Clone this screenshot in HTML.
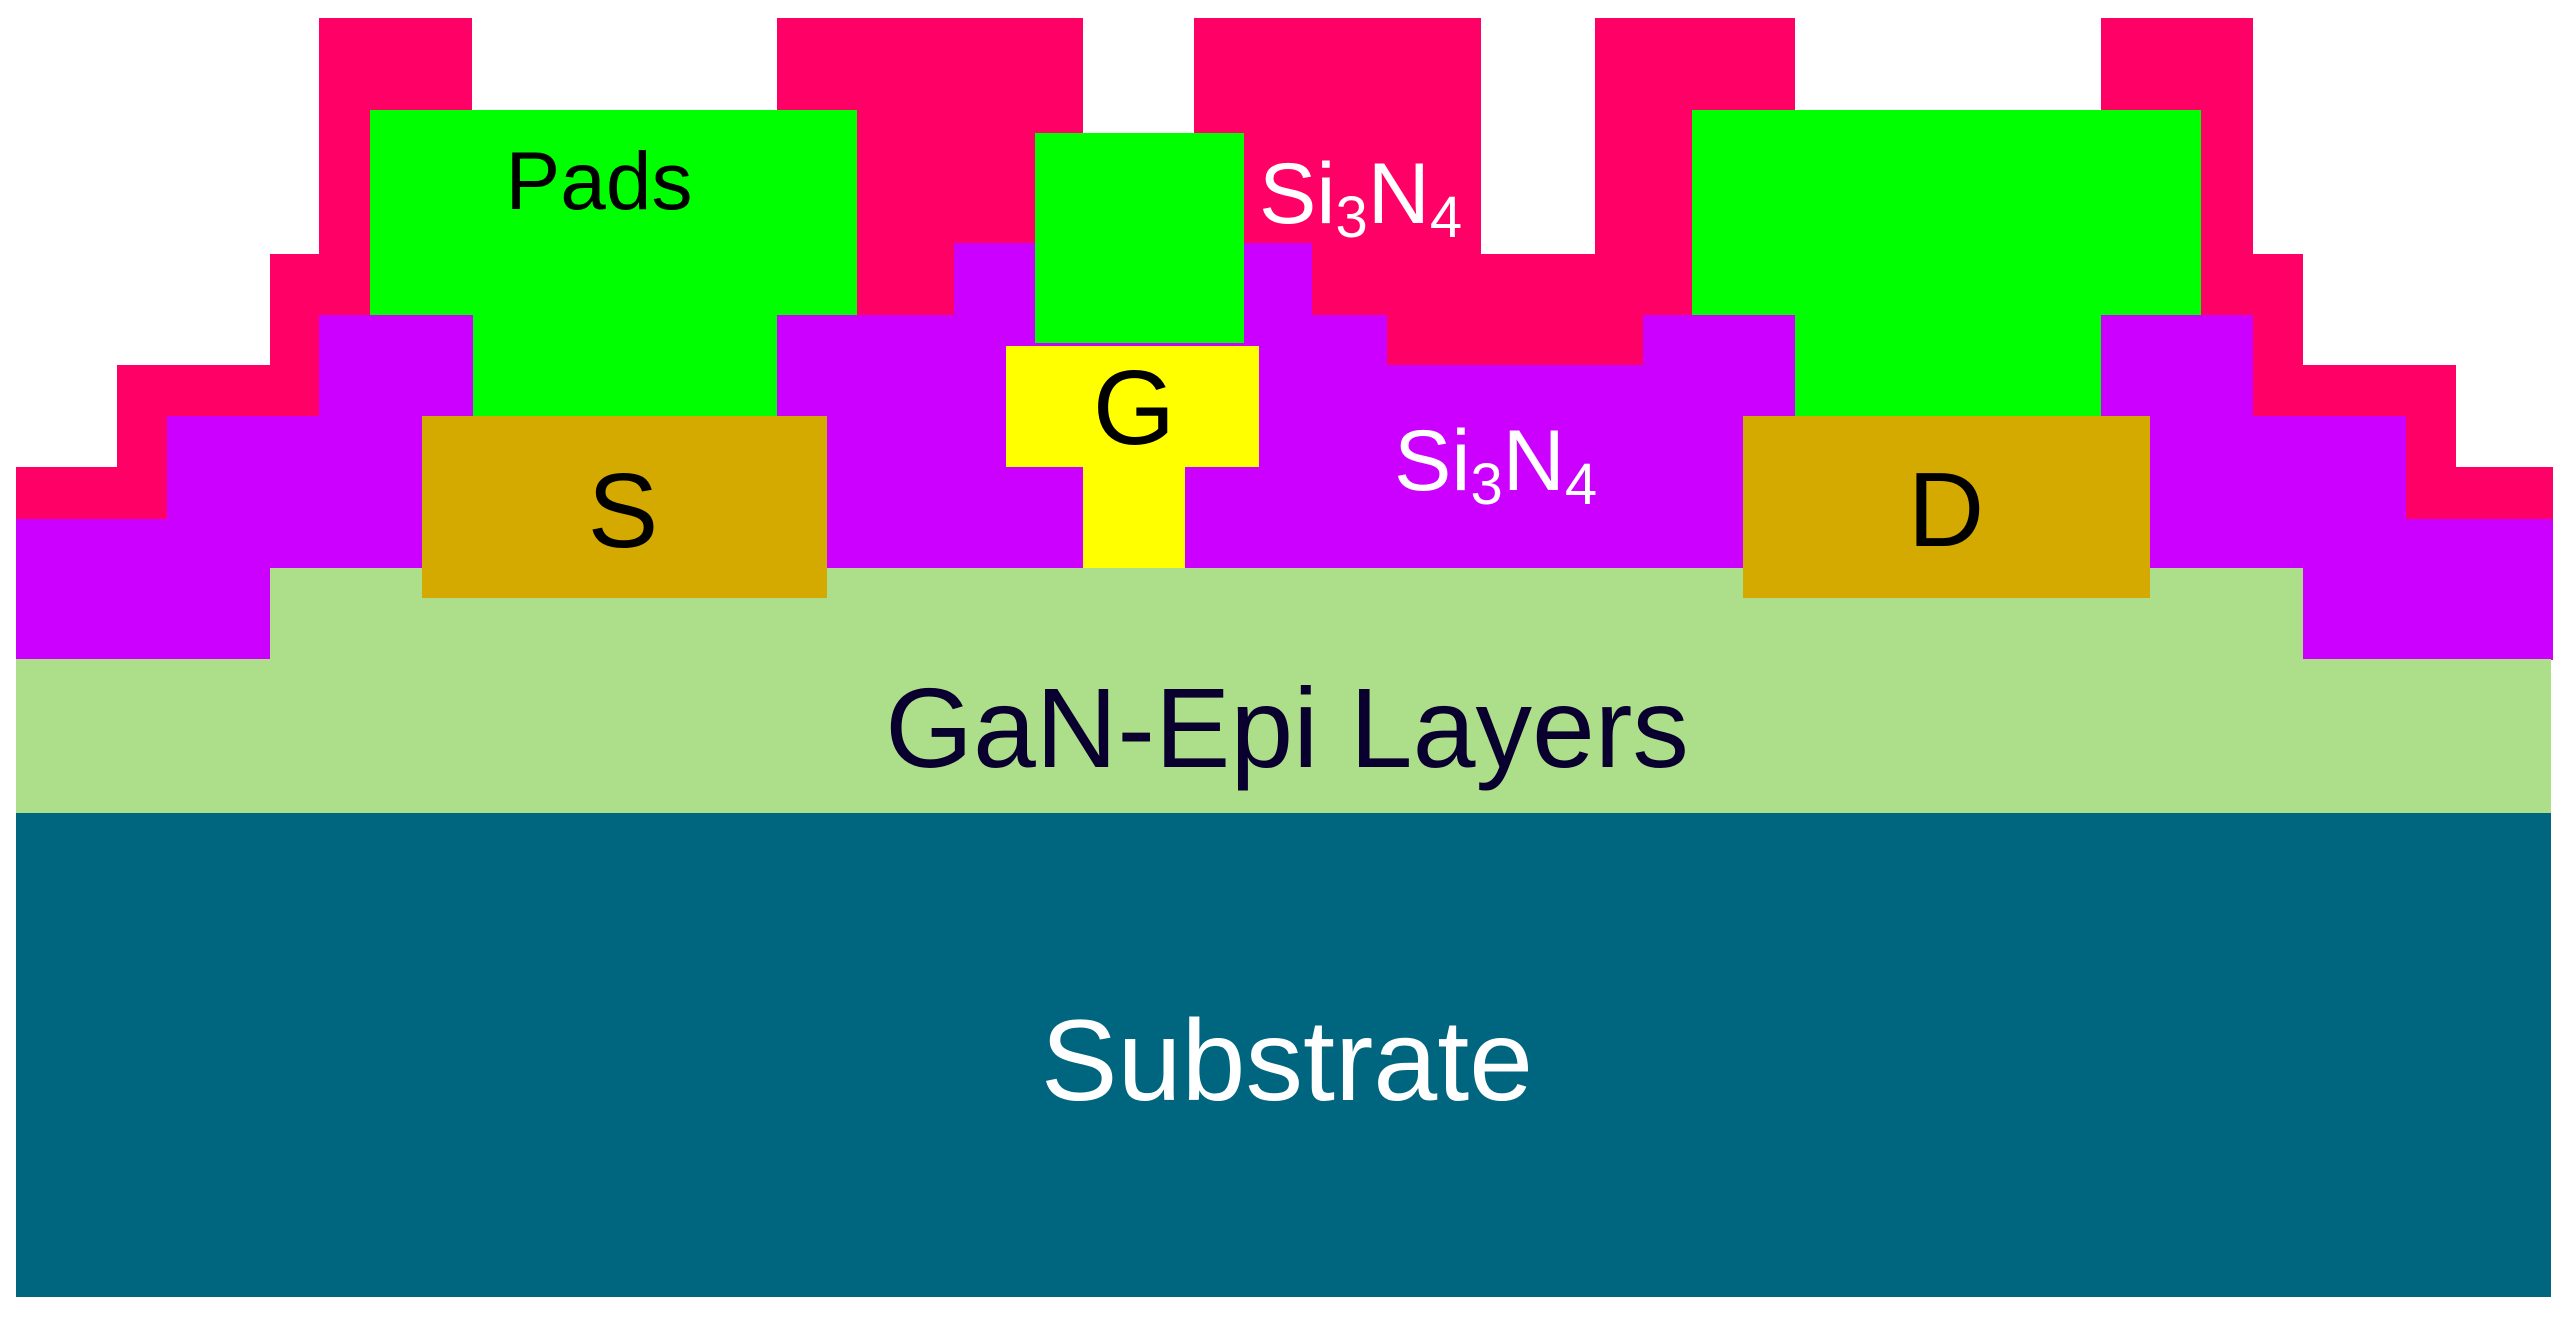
<!DOCTYPE html>
<html><head><meta charset="utf-8"><style>
html,body{margin:0;padding:0;background:#fff;}
svg{display:block;}
text{font-family:"Liberation Sans",sans-serif;}
</style></head><body>
<svg width="2564" height="1317" viewBox="0 0 2564 1317" xmlns="http://www.w3.org/2000/svg">
<rect width="2564" height="1317" fill="#fff"/>
<polygon fill="#FF0066" points="16,519 16,467 117,467 117,365 270,365 270,254 319,254 319,18 472,18 472,110 777,110 777,18 1083,18 1083,133 1194,133 1194,18 1481,18 1481,254 1595,254 1595,18 1795,18 1795,110 2101,110 2101,18 2253,18 2253,254 2303,254 2303,365 2456,365 2456,467 2553,467 2553,660 16,660"/>
<polygon fill="#CC00FF" points="16,519 167,519 167,416 319,416 319,315 954,315 954,243 1312,243 1312,315 1387,315 1387,365 1643,365 1643,315 2253,315 2253,416 2406,416 2406,519 2553,519 2553,659 16,659"/>
<polygon fill="#ADDF8A" points="270,568 2303,568 2303,659 2551,659 2551,813 16,813 16,659 270,659"/>
<rect x="16" y="813" width="2535" height="484" fill="#00667F"/>
<rect x="370" y="110" width="487" height="205" fill="#00FF00"/>
<rect x="473" y="314" width="304" height="103" fill="#00FF00"/>
<rect x="1692" y="110" width="509" height="205" fill="#00FF00"/>
<rect x="1795" y="314" width="306" height="103" fill="#00FF00"/>
<rect x="1035" y="133" width="209" height="210" fill="#00FF00"/>
<rect x="1006" y="346" width="253" height="121" fill="#FFFF00"/>
<rect x="1083" y="466" width="102" height="102" fill="#FFFF00"/>
<rect x="422" y="416" width="405" height="182" fill="#D4A900"/>
<rect x="1743" y="416" width="407" height="182" fill="#D4A900"/>
<text x="599" y="209" font-size="82" text-anchor="middle" fill="#000">Pads</text>
<text x="623" y="547" font-size="106" text-anchor="middle" fill="#000">S</text>
<text x="1134" y="444" font-size="106" text-anchor="middle" fill="#000">G</text>
<text x="1946" y="546" font-size="106" text-anchor="middle" fill="#000">D</text>
<text x="1259" y="223" font-size="86" fill="#fff">Si<tspan font-size="58" dy="14">3</tspan><tspan dy="-14">N</tspan><tspan font-size="58" dy="14">4</tspan></text>
<text x="1394" y="490" font-size="86" fill="#fff">Si<tspan font-size="58" dy="14">3</tspan><tspan dy="-14">N</tspan><tspan font-size="58" dy="14">4</tspan></text>
<text x="1287" y="767" font-size="113" text-anchor="middle" fill="#0a0030">GaN-Epi Layers</text>
<text x="1287" y="1100" font-size="115" text-anchor="middle" fill="#fff">Substrate</text>
</svg>
</body></html>
